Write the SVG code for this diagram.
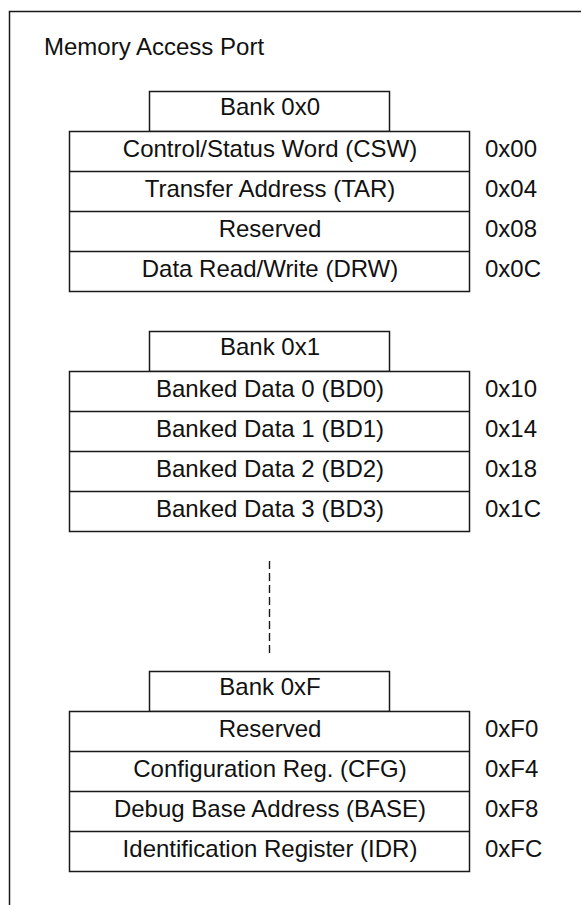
<svg xmlns="http://www.w3.org/2000/svg" width="581" height="905" viewBox="0 0 581 905">
  <style>
    .frame { fill: none; stroke: #1a1a1a; stroke-width: 1.5; }
    .box { fill: #ffffff; stroke: #1a1a1a; stroke-width: 1.5; }
    .sep { stroke: #1a1a1a; stroke-width: 1.5; }
    .dots { stroke: #1a1a1a; stroke-width: 1.4; stroke-dasharray: 8 4; fill: none; }
    text { font-family: "Liberation Sans", Arial, sans-serif; font-size: 24px; fill: #111111; }
    .mid { text-anchor: middle; }
  </style>
  <rect width="581" height="905" fill="#ffffff"/>

  <!-- outer frame, open on the right and bottom -->
  <path class="frame" d="M9.5,905 V11.5 H581"/>
  <text x="44" y="55">Memory Access Port</text>

  <!-- Bank 0x0 -->
  <g id="bank0">
    <rect class="box" x="149.5" y="91.5" width="240" height="40"/>
    <text class="mid" x="270" y="115">Bank 0x0</text>
    <rect class="box" x="69.5" y="131.5" width="400" height="160"/>
    <line class="sep" x1="69.5" y1="171.5" x2="469.5" y2="171.5"/>
    <line class="sep" x1="69.5" y1="211.5" x2="469.5" y2="211.5"/>
    <line class="sep" x1="69.5" y1="251.5" x2="469.5" y2="251.5"/>
    <text class="mid" x="270" y="157">Control/Status Word (CSW)</text>
    <text class="mid" x="270" y="197">Transfer Address (TAR)</text>
    <text class="mid" x="270" y="237">Reserved</text>
    <text class="mid" x="270" y="277">Data Read/Write (DRW)</text>
    <text x="485" y="157">0x00</text>
    <text x="485" y="197">0x04</text>
    <text x="485" y="237">0x08</text>
    <text x="485" y="277">0x0C</text>
  </g>

  <!-- Bank 0x1 -->
  <g id="bank1">
    <rect class="box" x="149.5" y="331.5" width="240" height="40"/>
    <text class="mid" x="270" y="355">Bank 0x1</text>
    <rect class="box" x="69.5" y="371.5" width="400" height="160"/>
    <line class="sep" x1="69.5" y1="411.5" x2="469.5" y2="411.5"/>
    <line class="sep" x1="69.5" y1="451.5" x2="469.5" y2="451.5"/>
    <line class="sep" x1="69.5" y1="491.5" x2="469.5" y2="491.5"/>
    <text class="mid" x="270" y="397">Banked Data 0 (BD0)</text>
    <text class="mid" x="270" y="437">Banked Data 1 (BD1)</text>
    <text class="mid" x="270" y="477">Banked Data 2 (BD2)</text>
    <text class="mid" x="270" y="517">Banked Data 3 (BD3)</text>
    <text x="485" y="397">0x10</text>
    <text x="485" y="437">0x14</text>
    <text x="485" y="477">0x18</text>
    <text x="485" y="517">0x1C</text>
  </g>

  <!-- ellipsis between banks -->
  <g id="connectors">
    <line class="dots" x1="269.5" y1="561" x2="269.5" y2="653"/>
  </g>

  <!-- Bank 0xF -->
  <g id="bankF">
    <rect class="box" x="149.5" y="671.5" width="240" height="40"/>
    <text class="mid" x="270" y="695">Bank 0xF</text>
    <rect class="box" x="69.5" y="711.5" width="400" height="160"/>
    <line class="sep" x1="69.5" y1="751.5" x2="469.5" y2="751.5"/>
    <line class="sep" x1="69.5" y1="791.5" x2="469.5" y2="791.5"/>
    <line class="sep" x1="69.5" y1="831.5" x2="469.5" y2="831.5"/>
    <text class="mid" x="270" y="737">Reserved</text>
    <text class="mid" x="270" y="777">Configuration Reg. (CFG)</text>
    <text class="mid" x="270" y="817">Debug Base Address (BASE)</text>
    <text class="mid" x="270" y="857">Identification Register (IDR)</text>
    <text x="485" y="737">0xF0</text>
    <text x="485" y="777">0xF4</text>
    <text x="485" y="817">0xF8</text>
    <text x="485" y="857">0xFC</text>
  </g>
</svg>
